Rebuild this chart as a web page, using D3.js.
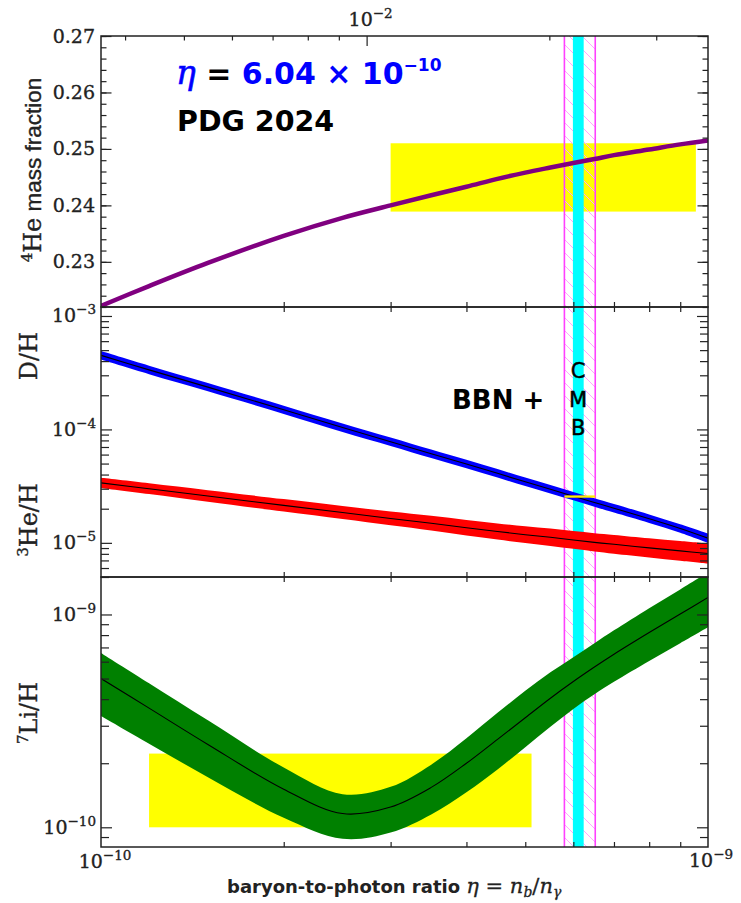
<!DOCTYPE html>
<html><head><meta charset="utf-8">
<script src="https://cdn.jsdelivr.net/npm/d3@7"></script>
<style>body{margin:0;background:#fff}</style>
</head><body><svg id="c" width="741" height="903"></svg>
<script>
// ---------- data (eta in units of 1e-10) ----------
const etaGrid = [1.0,1.2,1.5,2.0,2.5,3.0,3.5,4.0,4.5,5.0,5.5,6.0,6.5,7.0,8.0,9.0,10.0];
const heYp    = [0.2222,0.2257,0.2298,0.2346,0.2378,0.2400,0.2418,0.2433,0.2447,0.2458,0.2467,0.2475,0.2482,0.2489,0.2499,0.2508,0.2515];
const dhMid   = [4.50e-4,3.35e-4,2.36e-4,1.49e-4,1.04e-4,7.8e-5,6.1e-5,4.95e-5,4.1e-5,3.45e-5,2.97e-5,2.58e-5,2.27e-5,2.02e-5,1.63e-5,1.34e-5,1.10e-5];
const dhHi    = [4.91e-4,3.65e-4,2.57e-4,1.62e-4,1.13e-4,8.5e-5,6.65e-5,5.4e-5,4.47e-5,3.76e-5,3.24e-5,2.81e-5,2.47e-5,2.2e-5,1.78e-5,1.46e-5,1.21e-5];
const dhLo    = [4.13e-4,3.07e-4,2.17e-4,1.37e-4,9.5e-5,7.16e-5,5.6e-5,4.54e-5,3.76e-5,3.17e-5,2.72e-5,2.37e-5,2.08e-5,1.85e-5,1.5e-5,1.23e-5,1.0e-5];
const he3Mid  = [3.38e-5,3.0e-5,2.59e-5,2.14e-5,1.85e-5,1.64e-5,1.49e-5,1.36e-5,1.26e-5,1.18e-5,1.12e-5,1.06e-5,1.01e-5,9.71e-6,9.03e-6,8.49e-6,8.05e-6];
const he3Hi   = [3.74e-5,3.35e-5,2.91e-5,2.43e-5,2.11e-5,1.886e-5,1.73e-5,1.59e-5,1.484e-5,1.398e-5,1.335e-5,1.27e-5,1.216e-5,1.175e-5,1.097e-5,1.036e-5,9.86e-6];
const he3Lo   = [3.05e-5,2.69e-5,2.30e-5,1.885e-5,1.62e-5,1.426e-5,1.284e-5,1.162e-5,1.07e-5,9.96e-6,9.4e-6,8.85e-6,8.39e-6,8.02e-6,7.43e-6,6.96e-6,6.57e-6];
const li7Mid  = [5.00e-10,3.63e-10,2.45e-10,1.51e-10,1.16e-10,1.245e-10,1.54e-10,2.00e-10,2.59e-10,3.27e-10,4.04e-10,4.84e-10,5.66e-10,6.50e-10,8.22e-10,1.005e-9,1.202e-9];
const li7Hi   = [6.59e-10,4.75e-10,3.18e-10,1.91e-10,1.43e-10,1.55e-10,1.97e-10,2.62e-10,3.45e-10,4.38e-10,5.35e-10,6.30e-10,7.33e-10,8.42e-10,1.07e-9,1.312e-9,1.578e-9];
const li7Lo   = [3.33e-10,2.47e-10,1.72e-10,1.109e-10,8.83e-11,9.45e-11,1.15e-10,1.46e-10,1.87e-10,2.38e-10,2.97e-10,3.60e-10,4.22e-10,4.83e-10,6.05e-10,7.33e-10,8.71e-10];

// observational boxes / bands
const heBox   = {eta:[3.0e-10,9.55e-10], val:[0.2389,0.2510]};
const liBox   = {eta:[1.2e-10,5.12e-10], val:[1.0e-10,2.22e-10]};
const dhObs   = {eta:[5.80e-10,6.52e-10], val:[2.50e-5,2.62e-5]};
const cmbBand = [5.99e-10,6.24e-10];
const bbnBand = [5.80e-10,6.52e-10];

// ticks
const etaMinor  = [2e-10,3e-10,4e-10,5e-10,6e-10,7e-10,8e-10,9e-10];
const omegaMajor= [0.01];
const omegaMinor= [0.004,0.005,0.006,0.007,0.008,0.009,0.02,0.03];
const heMajor   = [0.23,0.24,0.25,0.26,0.27];
const heMinor   = d3.range(0.222,0.2701,0.002);
const midMajor  = [1e-5,1e-4,1e-3];
const midMinor  = [5e-6,6e-6,7e-6,8e-6,9e-6,2e-5,3e-5,4e-5,5e-5,6e-5,7e-5,8e-5,9e-5,2e-4,3e-4,4e-4,5e-4,6e-4,7e-4,8e-4,9e-4];
const liMajor   = [1e-10,1e-9];
const liMinor   = [9e-11,2e-10,3e-10,4e-10,5e-10,6e-10,7e-10,8e-10,9e-10];

// ---------- layout ----------
const L=101, R=708, T0=36, T1=307, T2=577, T3=847;
const svg = d3.select('#c');
const E = etaGrid.map(v=>v*1e-10);
const x = d3.scaleLog().domain([1e-10,1e-9]).range([L,R]);
const xOm = d3.scaleLog().domain([1e-10/273.9e-10, 1e-9/273.9e-10]).range([L,R]);
const yHe = d3.scaleLinear().domain([0.222,0.27]).range([T1,T0]);
const yMid = d3.scaleLog().domain([5e-6,1.2e-3]).range([T2,T1]);
const yLi = d3.scaleLog().domain([8.08e-11,1.5e-9]).range([T3,T2]);

const defs = svg.append('defs');
const pat = defs.append('pattern').attr('id','hatch').attr('patternUnits','userSpaceOnUse').attr('width',13).attr('height',13);
pat.append('path').attr('d','M-2,-2L15,15').attr('stroke','#ffa6ff').attr('stroke-width',1);
[['cTop',T0,T1],['cMid',T1,T2],['cBot',T2,T3]].forEach(([id,a,b])=>{
  defs.append('clipPath').attr('id',id).append('rect').attr('x',L).attr('y',a).attr('width',R-L).attr('height',b-a);
});

// layer 1: yellow observation boxes
const boxes = svg.append('g');
boxes.append('rect').attr('x',x(heBox.eta[0])).attr('width',x(heBox.eta[1])-x(heBox.eta[0]))
  .attr('y',yHe(heBox.val[1])).attr('height',yHe(heBox.val[0])-yHe(heBox.val[1])).attr('fill','#ffff00');
boxes.append('rect').attr('x',x(liBox.eta[0])).attr('width',x(liBox.eta[1])-x(liBox.eta[0]))
  .attr('y',yLi(liBox.val[1])).attr('height',yLi(liBox.val[0])-yLi(liBox.val[1])).attr('fill','#ffff00');

// layer 2: vertical bands
const bands = svg.append('g');
bands.append('rect').attr('x',x(bbnBand[0])).attr('width',x(bbnBand[1])-x(bbnBand[0])).attr('y',T0).attr('height',T3-T0).attr('fill','url(#hatch)');
bbnBand.forEach(v=>bands.append('line').attr('x1',x(v)).attr('x2',x(v)).attr('y1',T0).attr('y2',T3).attr('stroke','#ff40ff').attr('stroke-width',1.6));
bands.append('rect').attr('x',x(cmbBand[0])).attr('width',x(cmbBand[1])-x(cmbBand[0])).attr('y',T0).attr('height',T3-T0).attr('fill','#00ffff');

// layer 3: curves
const gTop = svg.append('g').attr('clip-path','url(#cTop)');
const gMid = svg.append('g').attr('clip-path','url(#cMid)');
const gBot = svg.append('g').attr('clip-path','url(#cBot)');
const mc = d3.curveCatmullRom.alpha(0.5);
function band(g, lo, hi, ys, fill){
  g.append('path').datum(E).attr('fill',fill)
   .attr('d', d3.area().x(d=>x(d)).y0((d,i)=>ys(lo[i])).y1((d,i)=>ys(hi[i])).curve(mc));
}
function line(g, vals, ys, col, w){
  g.append('path').datum(E).attr('fill','none').attr('stroke',col).attr('stroke-width',w)
   .attr('d', d3.line().x(d=>x(d)).y((d,i)=>ys(vals[i])).curve(mc));
}
line(gTop, heYp, yHe, '#800080', 4.5);
band(gMid, he3Lo, he3Hi, yMid, '#ff0000');
line(gMid, he3Mid, yMid, '#000', 1.1);
band(gMid, dhLo, dhHi, yMid, '#0000ff');
line(gMid, dhMid, yMid, '#000', 1.1);
gMid.append('rect').attr('x',x(dhObs.eta[0])).attr('width',x(dhObs.eta[1])-x(dhObs.eta[0]))
  .attr('y',yMid(dhObs.val[1])).attr('height',yMid(dhObs.val[0])-yMid(dhObs.val[1])).attr('fill','#ffee00');
band(gBot, li7Lo, li7Hi, yLi, '#008000');
line(gBot, li7Mid, yLi, '#000', 1.1);

// ---------- axes / ticks ----------
function ax(gen, tr, vals, size){
  const g = svg.append('g').attr('transform',tr).call(gen.tickValues(vals).tickSize(size).tickFormat(''));
  g.select('.domain').remove();
  g.selectAll('line').attr('stroke','#222').attr('stroke-width',1.2);
  g.selectAll('text').remove();
}
ax(d3.axisLeft(yHe),`translate(${L},0)`,heMinor,-5.5);
ax(d3.axisLeft(yHe),`translate(${L},0)`,heMajor,-10.5);
ax(d3.axisRight(yHe),`translate(${R},0)`,heMinor,-5.5);
ax(d3.axisRight(yHe),`translate(${R},0)`,heMajor,-10.5);
ax(d3.axisLeft(yMid),`translate(${L},0)`,midMinor,-8);
ax(d3.axisLeft(yMid),`translate(${L},0)`,midMajor,-11);
ax(d3.axisRight(yMid),`translate(${R},0)`,midMinor,-8);
ax(d3.axisRight(yMid),`translate(${R},0)`,midMajor,-11);
ax(d3.axisLeft(yLi),`translate(${L},0)`,liMinor,-8);
ax(d3.axisLeft(yLi),`translate(${L},0)`,liMajor,-11);
ax(d3.axisRight(yLi),`translate(${R},0)`,liMinor,-8);
ax(d3.axisRight(yLi),`translate(${R},0)`,liMajor,-11);
[T1,T2].forEach(yy=>{
  ax(d3.axisTop(x),`translate(0,${yy})`,etaMinor,5);
  ax(d3.axisBottom(x),`translate(0,${yy})`,etaMinor,5);
});
ax(d3.axisBottom(x),`translate(0,${T3})`,etaMinor,-5);
ax(d3.axisTop(xOm),`translate(0,${T0})`,omegaMinor,-4.5);
ax(d3.axisTop(xOm),`translate(0,${T0})`,omegaMajor,-10);

[[T0,T1],[T1,T2],[T2,T3]].forEach(([a,b])=>{
  svg.append('rect').attr('x',L).attr('y',a).attr('width',R-L).attr('height',b-a)
    .attr('fill','none').attr('stroke','#222').attr('stroke-width',1.5);
});

// ---------- tick labels ----------
const serif = 'DejaVu Serif';
const fmt2 = d3.format('.2f');
const heavy = s => s.attr('stroke','#222').attr('stroke-width',0.35);
heMajor.forEach(v=>{
  heavy(svg.append('text').attr('x',L-6).attr('y',yHe(v)+6.5).attr('text-anchor','end')
    .attr('font-family',serif).attr('font-size',19).attr('fill','#222').text(fmt2(v)));
});
function powLabel(xx, yy, exp, anchor){
  const t = svg.append('text').attr('x',xx).attr('y',yy).attr('text-anchor',anchor)
    .attr('font-family',serif).attr('font-size',19).attr('fill','#222');
  heavy(t);
  t.append('tspan').text('10');
  t.append('tspan').attr('font-size',13.5).attr('dy',-8).text('−'+exp);
  return t;
}
midMajor.forEach(v=>powLabel(L-5, yMid(v)+6.5, String(-Math.round(Math.log10(v))), 'end'));
liMajor.forEach(v=>powLabel(L-5, yLi(v)+6.5, String(-Math.round(Math.log10(v))), 'end'));
powLabel(x(1e-10)+4, 868, '10', 'middle');
powLabel(x(1e-9)+3, 867, '9', 'middle');
powLabel(xOm(0.01)+4, 26, '2', 'middle');

// ---------- axis titles ----------
function ylab(cx, cy, parts){
  const t = svg.append('text').attr('transform',`translate(${cx},${cy}) rotate(-90)`).attr('text-anchor','middle').attr('fill','#222');
  heavy(t);
  parts.forEach(p=>{
    const s = t.append('tspan').text(p.t).attr('font-family',p.f||serif).attr('font-size',p.s||24);
    if(p.dy) s.attr('dy',p.dy);
    if(p.w) s.attr('font-weight',p.w);
  });
}
ylab(41, 170, [{t:'4',s:15,dy:-9},{t:'He',dy:9},{t:' mass fraction',f:'Liberation Sans',s:22.5}]);
ylab(37, 356, [{t:'D/H'}]);
ylab(37, 520, [{t:'3',s:15,dy:-9},{t:'He/H',dy:9}]);
ylab(37, 713, [{t:'7',s:15,dy:-9},{t:'Li/H',dy:9}]);

const xt = svg.append('text').attr('x',227).attr('y',893).attr('fill','#222');
xt.append('tspan').attr('font-family','DejaVu Sans').attr('font-weight','bold').attr('font-size',18).text('baryon-to-photon ratio ');
const m = (t,o)=>{const s=xt.append('tspan').attr('font-family',serif).attr('font-size',o.s||21).attr('stroke','#222').attr('stroke-width',0.3).text(t);
  if(o.i) s.attr('font-style','italic'); if(o.dy) s.attr('dy',o.dy); return s;};
m('η',{i:1}); m(' = ',{}); m('n',{i:1}); m('b',{i:1,s:14,dy:4}); m('/',{dy:-4}); m('n',{i:1}); m('γ',{i:1,s:14,dy:4});

// ---------- annotations ----------
const t1 = svg.append('text').attr('x',176).attr('y',84).attr('font-family','DejaVu Sans').attr('font-weight','bold').attr('font-size',30);
t1.append('tspan').attr('fill','#0000ff').attr('stroke','#0000ff').attr('stroke-width',0.6).attr('font-family',serif).attr('font-style','italic').attr('font-weight','normal').attr('font-size',33).text('η');
t1.append('tspan').attr('fill','#000').text(' = ');
t1.append('tspan').attr('fill','#0000ff').text('6.04 × 10');
t1.append('tspan').attr('fill','#0000ff').attr('font-size',17).attr('dy',-13).text('−10');
svg.append('text').attr('x',177).attr('y',131).attr('font-family','DejaVu Sans').attr('font-weight','bold').attr('font-size',28.5).attr('fill','#000').text('PDG 2024');
svg.append('text').attr('x',452).attr('y',409).attr('font-family','DejaVu Sans').attr('font-weight','bold').attr('font-size',26).attr('fill','#000').text('BBN +');
['C','M','B'].forEach((c,i)=>{
  svg.append('text').attr('x',x(6.11e-10)).attr('y',378+i*28.5).attr('text-anchor','middle')
    .attr('font-family','DejaVu Sans').attr('font-size',21).attr('fill','#000')
    .attr('stroke','#000').attr('stroke-width',0.5).text(c);
});
</script></body></html>
